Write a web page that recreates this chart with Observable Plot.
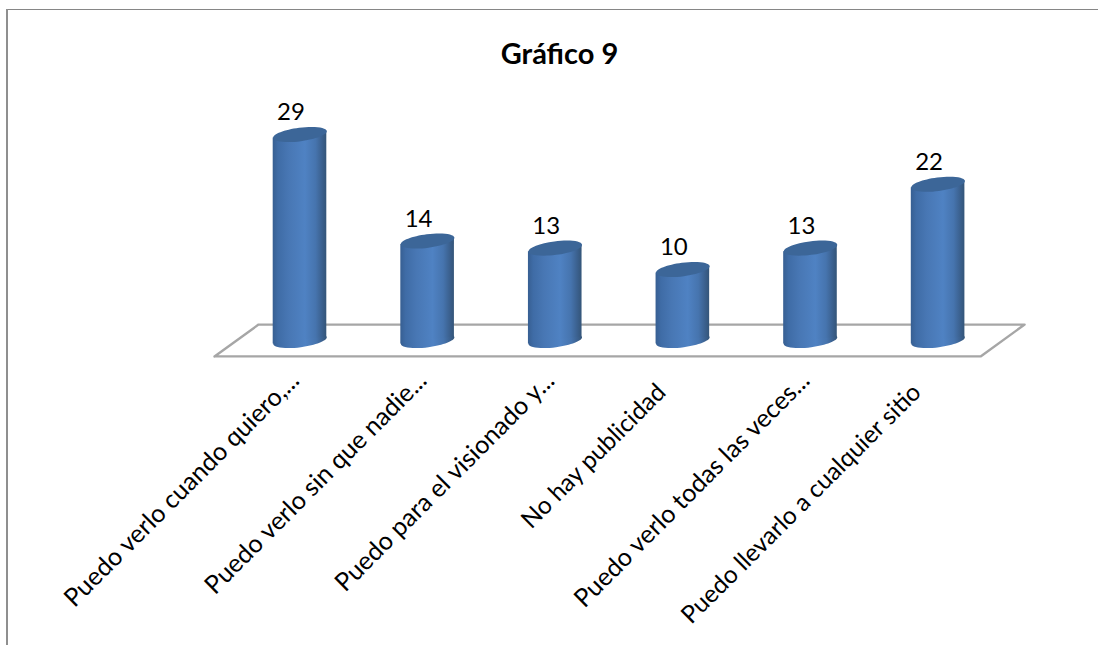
<!DOCTYPE html>
<html lang="es">
<head>
<meta charset="utf-8">
<title>Gráfico 9</title>
<script src="https://cdn.jsdelivr.net/npm/d3@7"></script>
<script src="https://cdn.jsdelivr.net/npm/@observablehq/plot@0.6"></script>
<style>
  html, body { margin: 0; background: #fff; overflow: hidden; }
  #chart { position: relative; width: 1098px; height: 645px; }
  #chart svg { position: absolute; left: 0; top: 0; }
  #edge-top { position: absolute; left: 6px; right: 0; top: 9px; height: 1px; background: #868686; }
  #edge-left { position: absolute; left: 6px; top: 9px; bottom: 0; width: 2px; background: #8f8f8f; }
</style>
</head>
<body>
<div id="chart"><div id="edge-top"></div><div id="edge-left"></div></div>
<script>
const chartTitle = "Gráfico 9";
const categories = [
  "Puedo verlo cuando quiero,...",
  "Puedo verlo sin que nadie...",
  "Puedo para el visionado y...",
  "No hay publicidad",
  "Puedo verlo todas las veces...",
  "Puedo llevarlo a cualquier sitio"
];
const values = [29, 14, 13, 10, 13, 22];
// Labels cut short by the ellipsis sit closer to the floor than the complete ones.
const shortLabels = [0, 1, 2, 4];
const fullLabels = [3, 5];

const font = "Lato, Carlito, Calibri, sans-serif";
const halfBar = 0.21;   // half a column's width, in category units
const tilt = 0.49;      // rise of a column's end across its half width, in value units

const rows = values.map((value, i) => ({i, value}));

// Column sides: a sheared band between the two tilted end caps.
const bodies = rows.flatMap(({i, value}) => [
  {i, x: i - halfBar, y1: -tilt, y2: value - tilt},
  {i, x: i + halfBar, y1: tilt, y2: value + tilt}
]);

// Floor of the 3D plot area, in category and value units.
const floor = [
  {x: -0.67, y: -2.24},
  {x: -0.325, y: 2.24},
  {x: 5.678, y: 2.24},
  {x: 5.333, y: -2.24},
  {x: -0.67, y: -2.24}
];

// Dot symbol: an ellipse leaning up to the right, seen from slightly above.
const tiltedEllipse = {
  draw(context, size) {
    const rx = Math.sqrt(size / Math.PI);
    const ry = rx * 0.25;
    const angle = -7.4 * Math.PI / 180;
    const k = 0.5522848;
    const cos = Math.cos(angle), sin = Math.sin(angle);
    const p = (u, v) => [u * cos - v * sin, u * sin + v * cos];
    context.moveTo(...p(rx, 0));
    context.bezierCurveTo(...p(rx, k * ry), ...p(k * rx, ry), ...p(0, ry));
    context.bezierCurveTo(...p(-k * rx, ry), ...p(-rx, k * ry), ...p(-rx, 0));
    context.bezierCurveTo(...p(-rx, -k * ry), ...p(-k * rx, -ry), ...p(0, -ry));
    context.bezierCurveTo(...p(k * rx, -ry), ...p(rx, -k * ry), ...p(rx, 0));
    context.closePath();
  }
};

// Horizontal shading that gives the columns their round look.
function gradients() {
  const defs = d3.create("svg:defs");
  const g = defs.append("linearGradient").attr("id", "cylinder")
    .attr("x1", 0).attr("x2", 1).attr("y1", 0).attr("y2", 0);
  [[0, "#375f92"], [0.1, "#3f6ca6"], [0.3, "#4877b4"], [0.6, "#4f82c3"], [0.8, "#4674ae"], [0.93, "#3a5f8c"], [1, "#345578"]]
    .forEach(([o, c]) => g.append("stop").attr("offset", o).attr("stop-color", c));
  return defs.node();
}

const labelAxis = (ticks, dx, dy, fontSize) => Plot.axisX({
  ticks,
  tickFormat: i => categories[i],
  tickRotate: -45,
  tickSize: 0,
  tickPadding: 0,
  dx,
  dy,
  fontSize,
  fontFamily: font,
  fill: "#000",
  label: null,
  lineAnchor: "top"
});

const plot = Plot.plot({
  width: 1098,
  height: 645,
  marginTop: 0,
  marginBottom: 275,
  marginLeft: 0,
  marginRight: 0,
  style: {background: "transparent", overflow: "visible"},
  x: {type: "linear", domain: [0, 5], range: [299.5, 937.6]},
  y: {domain: [0, 29], range: [340, 134], axis: null},
  marks: [
    gradients,
    Plot.line(floor, {x: "x", y: "y", stroke: "#a6a6a6", strokeWidth: 2.4, clip: false}),
    Plot.dot(rows, {x: "i", y: () => 0, r: 27, symbol: tiltedEllipse, fill: "url(#cylinder)", stroke: "none"}),
    Plot.areaY(bodies, {x: "x", y1: "y1", y2: "y2", z: "i", fill: "url(#cylinder)"}),
    Plot.dot(rows, {x: "i", y: "value", r: 27, symbol: tiltedEllipse, fill: "#3c6698", stroke: "none"}),
    Plot.text(rows, {
      x: "i", y: "value", text: "value", dx: -9, dy: -22,
      fontSize: 24, fontFamily: font, fill: "#000"
    }),
    Plot.text([chartTitle], {
      frameAnchor: "top-left", dx: 559, dy: 54, textAnchor: "middle", lineAnchor: "middle",
      fontSize: 29, fontWeight: 700, fontFamily: font, fill: "#000"
    }),
    labelAxis(shortLabels, -12, -1, 25.2),
    labelAxis(fullLabels, -28, 11, 24.5)
  ]
});

document.getElementById("chart").appendChild(plot);
</script>
</body>
</html>
